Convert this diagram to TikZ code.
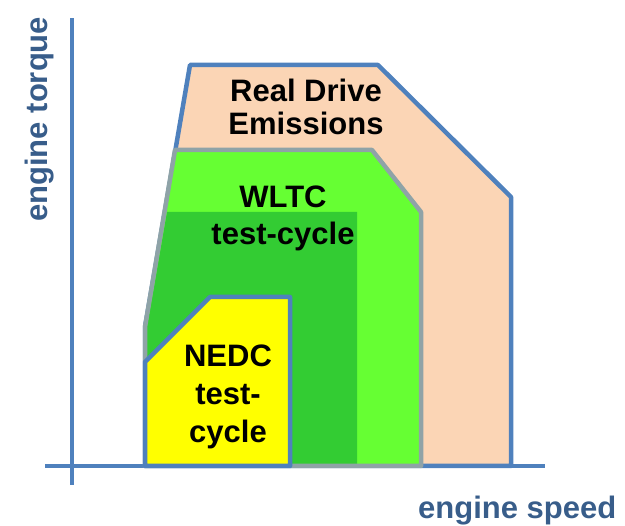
\documentclass[tikz,border=0pt]{standalone}
\usepackage{fontspec}
\setmainfont{Liberation Sans}
\definecolor{axisblue}{RGB}{79,129,189}
\definecolor{labelblue}{RGB}{56,93,138}
\definecolor{rdepeach}{RGB}{251,213,181}
\definecolor{wltclight}{RGB}{102,255,51}
\definecolor{wltcdark}{RGB}{51,204,51}
\definecolor{edgegray}{RGB}{143,163,167}
\definecolor{nedcyellow}{RGB}{255,255,0}

\begin{document}
\begin{tikzpicture}[x=1pt, y=-1pt, line join=round,
    boxtext/.style={anchor=base, inner sep=0pt, font=\fontsize{31}{31}\selectfont\bfseries},
    axislabel/.style={anchor=base west, inner sep=0pt, text=labelblue, font=\fontsize{31}{31}\selectfont\bfseries}]
    \useasboundingbox (0, 0) rectangle (625, 526);
    % axes
    \coordinate (ytop) at (72, 18);
    \coordinate (ybot) at (72, 485);
    \coordinate (xleft) at (45, 466);
    \coordinate (xright) at (545, 466);
    \draw [axisblue, line width=4.5pt] (ybot) to (ytop);
    \draw [axisblue, line width=4.5pt] (xleft) to (xright);
    % real drive emissions
    \filldraw [fill=rdepeach, draw=axisblue, line width=4.5pt]
        (190, 65) -- (378, 65) -- (511, 197) -- (511, 466) -- (145, 466) -- (145, 327) -- cycle;
    % WLTC test-cycle
    \fill [wltclight] (175, 150) -- (372, 150) -- (421, 212) -- (421, 466) -- (145, 466) -- (145, 327) -- cycle;
    \fill [wltcdark] (167, 212) -- (357, 212) -- (357, 464) -- (147, 464) -- (147, 327) -- cycle;
    \draw [edgegray, line width=4.5pt]
        (175, 150) -- (372, 150) -- (421, 212) -- (421, 466) -- (145, 466) -- (145, 327) -- cycle;
    % NEDC test-cycle
    \filldraw [fill=nedcyellow, draw=axisblue, line width=4.5pt]
        (145, 362) -- (210, 297) -- (290, 297) -- (290, 466) -- (145, 466) -- cycle;
    % texts
    \node [boxtext] (rde1) at (306, 102) {Real Drive};
    \node [boxtext] (rde2) at (306, 135) {Emissions};
    \node [boxtext] (wltc1) at (283, 208) {WLTC};
    \node [boxtext] (wltc2) at (283, 245) {test-cycle};
    \node [boxtext] (nedc1) at (228, 367) {NEDC};
    \node [boxtext] (nedc2) at (228, 405) {test-};
    \node [boxtext] (nedc3) at (228, 443) {cycle};
    % axis labels
    \node [axislabel, rotate=90] (torque) at (47, 222) {engine torque};
    \node [axislabel] (speed) at (418, 519) {engine speed};
\end{tikzpicture}
\end{document}
